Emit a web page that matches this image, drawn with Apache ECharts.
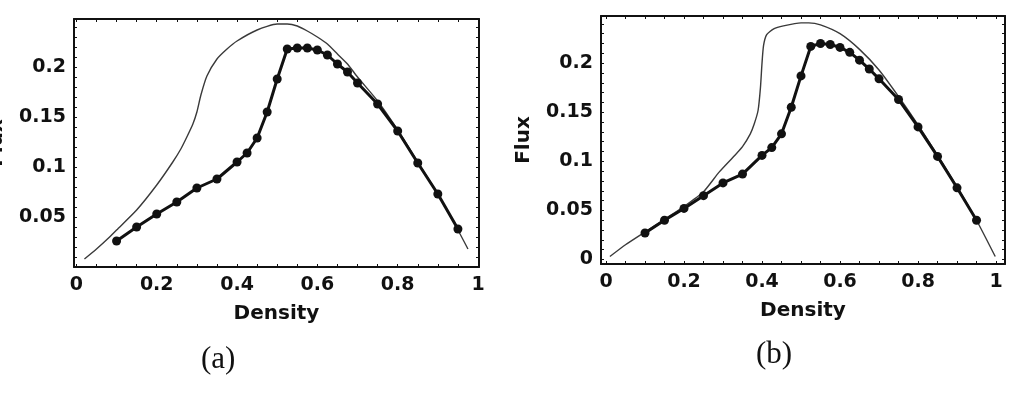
<!DOCTYPE html>
<html>
<head>
<meta charset="utf-8">
<script src="https://cdn.jsdelivr.net/npm/echarts@6/dist/echarts.min.js"></script>
<style>
  html, body { margin: 0; padding: 0; background: #fff; }
  #chart-container { width: 1017px; height: 414px; }
</style>
</head>
<body>
<div id="chart-container"></div>
<script>
// tick labels
var xTicks = [0, 0.2, 0.4, 0.6, 0.8, 1];
var yTicksA = [0.05, 0.1, 0.15, 0.2];
var yTicksB = [0, 0.05, 0.1, 0.15, 0.2];

// simulation points (thick line with dots)
var densDots = [0.1, 0.15, 0.2, 0.25, 0.3, 0.35, 0.4, 0.425, 0.45, 0.475, 0.5, 0.525,
  0.55, 0.575, 0.6, 0.625, 0.65, 0.675, 0.7, 0.75, 0.8, 0.85, 0.9, 0.95];
var fluxDotsA = [0.026, 0.040, 0.053, 0.065, 0.079, 0.088, 0.105, 0.114, 0.129, 0.155, 0.188, 0.218,
  0.219, 0.219, 0.217, 0.212, 0.203, 0.195, 0.184, 0.163, 0.136, 0.104, 0.073, 0.038];
var fluxDotsB = [0.027, 0.040, 0.052, 0.065, 0.078, 0.087, 0.106, 0.114, 0.128, 0.155, 0.187, 0.217,
  0.220, 0.219, 0.216, 0.211, 0.203, 0.194, 0.184, 0.163, 0.135, 0.105, 0.073, 0.040];

// thin curves
var densCurveA = [0.02, 0.05, 0.08, 0.1, 0.15, 0.2, 0.24, 0.26, 0.275, 0.29, 0.3, 0.31, 0.325, 0.35,
  0.375, 0.4, 0.45, 0.5, 0.525, 0.55, 0.575, 0.6, 0.625, 0.65, 0.675, 0.7, 0.75, 0.8, 0.85, 0.9, 0.95, 0.975];
var fluxCurveA = [0.008, 0.018, 0.029, 0.037, 0.057, 0.082, 0.105, 0.118, 0.130, 0.143, 0.155, 0.172, 0.191, 0.208,
  0.218, 0.226, 0.237, 0.243, 0.243, 0.241, 0.236, 0.230, 0.223, 0.213, 0.203, 0.190, 0.166, 0.137, 0.105, 0.073, 0.037, 0.018];
var densCurveB = [0.01, 0.05, 0.1, 0.15, 0.2, 0.25, 0.29, 0.33, 0.35, 0.37, 0.38, 0.39, 0.396, 0.4, 0.404,
  0.412, 0.43, 0.455, 0.5, 0.52, 0.55, 0.6, 0.65, 0.7, 0.75, 0.8, 0.85, 0.9, 0.95, 0.998];
var fluxCurveB = [0.003, 0.015, 0.028, 0.041, 0.054, 0.069, 0.089, 0.106, 0.115, 0.128, 0.138, 0.152, 0.175, 0.200, 0.218,
  0.229, 0.235, 0.238, 0.241, 0.241, 0.239, 0.230, 0.214, 0.193, 0.166, 0.137, 0.106, 0.074, 0.040, 0.003];

function pairs(xs, ys) {
  return xs.map(function (x, i) { return [x, ys[i]]; });
}
function steps(from, to, step) {
  var out = [];
  for (var v = from; v <= to + 1e-9; v += step) out.push(+v.toFixed(3));
  return out;
}

var dom = document.getElementById('chart-container');
var myChart = echarts.init(dom, null, { renderer: 'canvas' });

var labelFont = { color: '#111', fontFamily: 'DejaVu Sans', fontWeight: 'bold', fontSize: 19 };
var nameFont = { color: '#111', fontFamily: 'DejaVu Sans', fontWeight: 'bold', fontSize: 20 };
var frameLine = { show: true, onZero: false, lineStyle: { color: '#111', width: 2 } };

function xAxisPair(grid, min, max) {
  return [{
    type: 'value', gridIndex: grid, min: min, max: max, position: 'bottom',
    name: 'Density', nameLocation: 'middle', nameGap: 37, nameTextStyle: nameFont, nameMoveOverlap: false,
    axisLine: frameLine, splitLine: { show: false },
    axisTick: { inside: true, length: 3, customValues: steps(0, 1, 0.05), lineStyle: { color: '#111' } },
    axisLabel: Object.assign({ margin: 9, customValues: xTicks }, labelFont)
  }, {
    type: 'value', gridIndex: grid, min: min, max: max, position: 'top',
    axisLine: frameLine, splitLine: { show: false },
    axisTick: { inside: true, length: 3, customValues: steps(0, 1, 0.05), lineStyle: { color: '#111' } },
    axisLabel: { show: false }
  }];
}
function yAxisPair(grid, min, max, ticks) {
  return [{
    type: 'value', gridIndex: grid, min: min, max: max, position: 'left',
    name: 'Flux', nameLocation: 'middle', nameGap: 67, nameTextStyle: nameFont, nameMoveOverlap: false,
    axisLine: frameLine, splitLine: { show: false },
    axisTick: { inside: true, length: 3, customValues: steps(0, 0.24, 0.01), lineStyle: { color: '#111' } },
    axisLabel: Object.assign({ margin: 8, customValues: ticks }, labelFont)
  }, {
    type: 'value', gridIndex: grid, min: min, max: max, position: 'right',
    axisLine: frameLine, splitLine: { show: false },
    axisTick: { inside: true, length: 3, customValues: steps(0, 0.24, 0.01), lineStyle: { color: '#111' } },
    axisLabel: { show: false }
  }];
}

function thin(xi, yi, data) {
  return {
    type: 'line', xAxisIndex: xi, yAxisIndex: yi, data: data, smooth: 0.2,
    showSymbol: false, lineStyle: { color: '#3a3a3a', width: 1.4 }, silent: true, z: 2
  };
}
function thick(xi, yi, data) {
  return {
    type: 'line', xAxisIndex: xi, yAxisIndex: yi, data: data,
    symbol: 'circle', symbolSize: 9, showAllSymbol: true,
    lineStyle: { color: '#111', width: 3 }, itemStyle: { color: '#111' }, z: 3
  };
}

var option = {
  animation: false,
  backgroundColor: '#fff',
  grid: [
    { left: 74, top: 19, width: 405, height: 248, outerBoundsMode: 'none' },
    { left: 601, top: 16, width: 404, height: 248, outerBoundsMode: 'none' }
  ],
  xAxis: [].concat(xAxisPair(0, -0.006, 1.0025), xAxisPair(1, -0.0128, 1.023)),
  yAxis: [].concat(yAxisPair(0, 0, 0.248, yTicksA), yAxisPair(1, -0.0046, 0.248, yTicksB)),
  graphic: [
    { type: 'text', left: 201, top: 344, style: { text: '(a)', font: '31px "Liberation Serif"', fill: '#111' } },
    { type: 'text', left: 756, top: 339, style: { text: '(b)', font: '31px "Liberation Serif"', fill: '#111' } }
  ],
  series: [
    thin(0, 0, pairs(densCurveA, fluxCurveA)),
    thick(0, 0, pairs(densDots, fluxDotsA)),
    thin(2, 2, pairs(densCurveB, fluxCurveB)),
    thick(2, 2, pairs(densDots, fluxDotsB))
  ]
};

myChart.setOption(option);
window.addEventListener('resize', myChart.resize);
</script>
</body>
</html>
